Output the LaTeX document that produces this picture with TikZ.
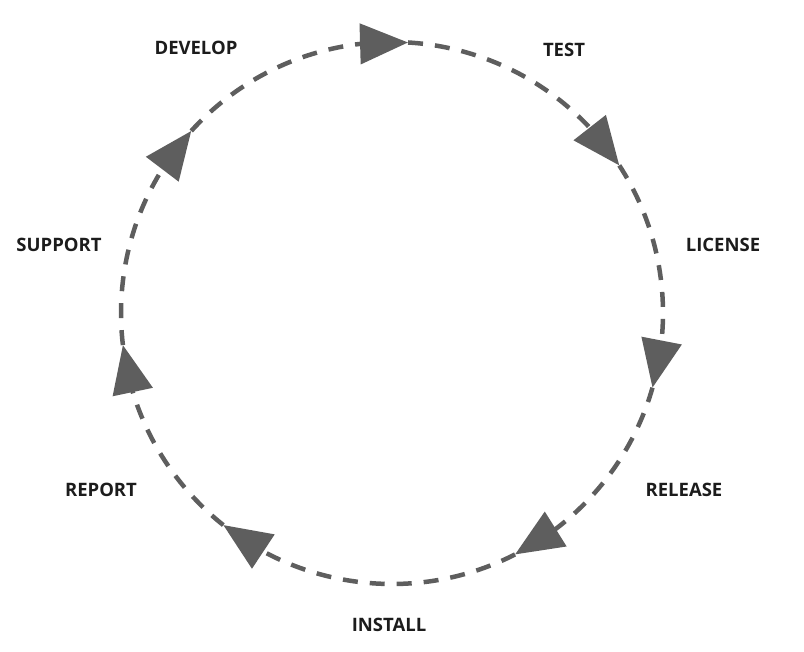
\documentclass[tikz,border=0pt]{standalone}
\usepackage{fontspec}
\setmainfont{Open Sans}
\usepackage{tikz}
\usetikzlibrary{arrows.meta, bending}
\definecolor{flowgray}{HTML}{5E5E5E}
\definecolor{labelblack}{HTML}{1C1C1C}
\tikzset{
  stage/.style={font=\fontsize{18.5}{20}\selectfont\bfseries, text=labelblack,
                inner sep=0pt, anchor=center},
  flow/.style={draw=flowgray, line width=4.5pt,
               dash pattern=on 15pt off 12pt,
               -{Triangle[length=48pt, width=40pt, flex]}},
}
\newcommand{\Rad}{271}

\begin{document}
\begin{tikzpicture}[x=1pt, y=1pt]
  \useasboundingbox (-392,-339) rectangle (412,313);

  % stage labels
  \node[stage] (develop) at (-196, 265) {DEVELOP};
  \node[stage] (test)    at (172, 263)  {TEST};
  \node[stage] (license) at (331, 68)   {LICENSE};
  \node[stage] (release) at (292, -177) {RELEASE};
  \node[stage] (install) at (-3, -312)  {INSTALL};
  \node[stage] (report)  at (-291, -177){REPORT};
  \node[stage] (support) at (-333, 68)  {SUPPORT};

  % arrow tips on the circle
  \foreach \n/\a in {a/86.6, b/33, c/-16, d/-63, e/231.5, f/186.8, g/137.8}
    \coordinate (t\n) at (\a:\Rad);

  % the cycle, clockwise
  \draw[flow] (tg) arc[start angle=137.8, end angle=86.6,  radius=\Rad];
  \draw[flow] (ta) arc[start angle=86.6,  end angle=33,    radius=\Rad];
  \draw[flow] (tb) arc[start angle=33,    end angle=-16,   radius=\Rad];
  \draw[flow] (tc) arc[start angle=-16,   end angle=-63,   radius=\Rad];
  \draw[flow] (td) arc[start angle=-63,   end angle=-128.5,radius=\Rad];
  \draw[flow] (te) arc[start angle=231.5, end angle=186.8, radius=\Rad];
  \draw[flow] (tf) arc[start angle=186.8, end angle=137.8, radius=\Rad];

\end{tikzpicture}
\end{document}
